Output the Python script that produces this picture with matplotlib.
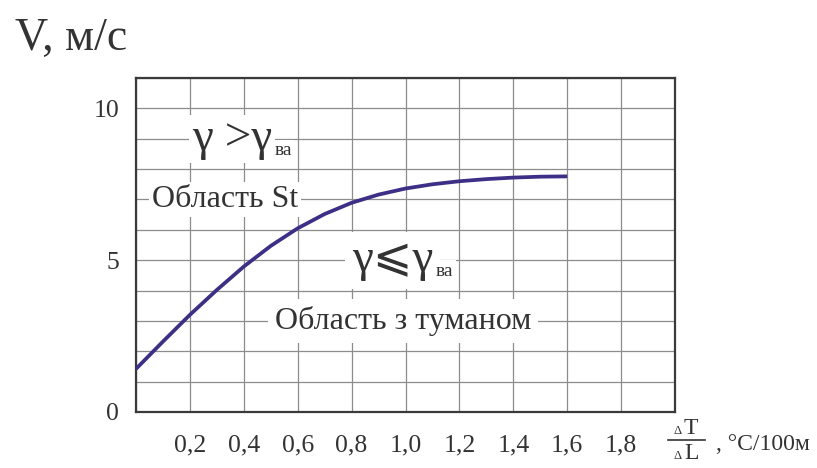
import numpy as np
import matplotlib
matplotlib.use('Agg')
import matplotlib.pyplot as plt

plt.rcParams['font.family'] = ['Liberation Serif', 'DejaVu Serif', 'DejaVu Sans']

# curve V(dT/dL)
grad = [0.0, 0.1, 0.2, 0.3, 0.4, 0.5, 0.6, 0.7, 0.8, 0.9, 1.0, 1.1, 1.2, 1.3, 1.4, 1.5, 1.6]
speed = [1.42, 2.32, 3.2, 4.02, 4.79, 5.47, 6.05, 6.52, 6.89, 7.16, 7.36, 7.5, 7.6, 7.67, 7.72, 7.75, 7.76]

xticks = [0.0, 0.2, 0.4, 0.6, 0.8, 1.0, 1.2, 1.4, 1.6, 1.8, 2.0]
xlabels = ['', '0,2', '0,4', '0,6', '0,8', '1,0', '1,2', '1,4', '1,6', '1,8', '']
yticks = list(range(12))
ylabels = ['0', '', '', '', '', '5', '', '', '', '', '10', '']

W, H = 817, 468
fig = plt.figure(figsize=(W / 100, H / 100), dpi=100)
ax = fig.add_axes([136 / W, 1 - 412 / H, 539 / W, 334 / H])

ax.plot(grad, speed, color='#3d2f85', lw=2.7, solid_capstyle='butt', zorder=4)

ax.set_xlim(0, 2.0)
ax.set_ylim(0, 11)
ax.set_xticks(xticks)
ax.set_xticklabels(xlabels)
ax.set_yticks(yticks)
ax.set_yticklabels(ylabels)
ax.tick_params(length=0, labelsize=18.5, colors='#333333')
ax.tick_params(axis='x', pad=16)
ax.tick_params(axis='y', pad=12)
ax.grid(True, color='#8c8c8c', lw=0.9)
ax.set_axisbelow(True)
for s in ax.spines.values():
    s.set_color('#3a3a3a')
    s.set_linewidth(1.6)

txt = '#333333'

# upper region
t1 = ax.text(0.208, 9.0, 'γ >γ', fontsize=34, color=txt, ha='left', va='center',
             bbox=dict(facecolor='white', edgecolor='none', pad=2), zorder=5)
ax.annotate('ва', xy=(1, 0), xycoords=t1, xytext=(2, 1), textcoords='offset points',
            fontsize=14, color=txt, ha='left', va='bottom', zorder=6,
            bbox=dict(facecolor='white', edgecolor='none', pad=1))
ax.text(0.33, 7.0, 'Область St', fontsize=23, color=txt, ha='center', va='center',
        bbox=dict(facecolor='white', edgecolor='none', pad=2), zorder=5)

# lower region
t2 = ax.text(0.8, 5.0, 'γ⩽γ', fontsize=34, color=txt, ha='left', va='center',
             bbox=dict(facecolor='white', edgecolor='none', pad=5), zorder=5)
ax.annotate('ва', xy=(1, 0), xycoords=t2, xytext=(2, 1), textcoords='offset points',
            fontsize=14, color=txt, ha='left', va='bottom', zorder=6,
            bbox=dict(facecolor='white', edgecolor='none', pad=2))
ax.text(0.99, 3.0, 'Область з туманом', fontsize=23, color=txt, ha='center', va='center',
        bbox=dict(facecolor='white', edgecolor='none', pad=5), zorder=5)

# axis titles
fig.text(15 / W, 1 - 50 / H, 'V, м/с', fontsize=33, color=txt, ha='left', va='baseline')

fig.text(673 / W, 1 - 434 / H, 'Δ', fontsize=9, color=txt, ha='left', va='baseline')
fig.text(684 / W, 1 - 434 / H, 'T', fontsize=17, color=txt, ha='left', va='baseline')
fig.add_artist(plt.Line2D([668 / W, 705 / W], [1 - 440 / H, 1 - 440 / H], color=txt, lw=1.2))
fig.text(673 / W, 1 - 459 / H, 'Δ', fontsize=9, color=txt, ha='left', va='baseline')
fig.text(684 / W, 1 - 459 / H, 'L', fontsize=17, color=txt, ha='left', va='baseline')
fig.text(716 / W, 1 - 450 / H, ', °C/100м', fontsize=17, color=txt, ha='left', va='baseline')

fig.savefig('out.png', dpi=100, facecolor='white')
